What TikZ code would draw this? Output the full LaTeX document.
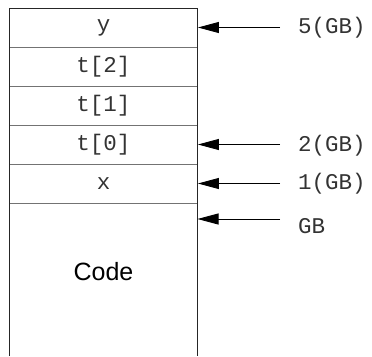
\documentclass[tikz,border=0pt]{standalone}
\usepackage{fontspec}
\setmainfont{Liberation Sans}
\newfontfamily\memfont{Liberation Mono}
\usetikzlibrary{arrows.meta}

\tikzset{
  cell/.style={draw=black!55, line width=0.9pt, minimum width=188pt, minimum height=39pt, inner sep=0pt, font=\memfont\fontsize{22.5}{22.5}\selectfont, text=black!80},
  ptr/.style={-{Triangle[length=21pt,width=11pt]}, line width=0.9pt},
  addr/.style={anchor=west, inner sep=0pt, font=\memfont\fontsize{22.5}{22.5}\selectfont, text=black!80}
}

\begin{document}
\begin{tikzpicture}[x=1pt,y=-1pt]
  \useasboundingbox (0,0) rectangle (372,356);

  % memory cells, top to bottom
  \node [cell] (y)  at (103.5,27.5)  {y};
  \node [cell] (t2) at (103.5,66.5)  {t[2]};
  \node [cell] (t1) at (103.5,105.5) {t[1]};
  \node [cell] (t0) at (103.5,144.5) {t[0]};
  \node [cell] (x)  at (103.5,183.5) {x};
  \node [font=\fontsize{25}{25}\selectfont] (code) at (103.5,272) {Code};

  % outer frame, open at the bottom
  \draw [line width=1pt, black!85] (9.5,356) -- (9.5,8) -- (197.5,8) -- (197.5,356);

  \coordinate (gbtip) at (197.5,219);
  \coordinate (a5) at (280,27.5);
  \coordinate (a2) at (280,144.5);
  \coordinate (a1) at (280,183.5);
  \coordinate (a0) at (280,219);

  \draw [ptr] (a5) -- (y.east);
  \draw [ptr] (a2) -- (t0.east);
  \draw [ptr] (a1) -- (x.east);
  \draw [ptr] (a0) -- (gbtip);

  \node [addr] (l5) at (298,28) {5(GB)};
  \node [addr] (l2) at (298,146) {2(GB)};
  \node [addr] (l1) at (298,184) {1(GB)};
  \node [addr] (l0) at (298,226) {GB};

\end{tikzpicture}
\end{document}
